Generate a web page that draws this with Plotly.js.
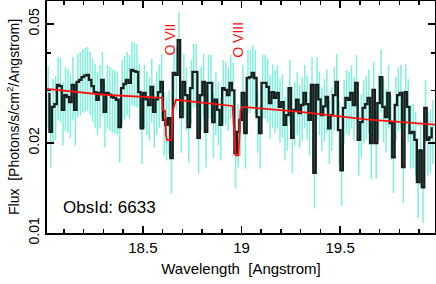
<!DOCTYPE html>
<html><head><meta charset="utf-8">
<script src="https://cdn.plot.ly/plotly-3.0.1.min.js"></script>
<style>html,body{margin:0;padding:0;background:#fff}#c{width:436px;height:284px}</style>
</head><body><div id="c"></div>
<script>
// binned spectrum (black histogram), flux in Photons/s/cm^2/Angstrom
const binStart = 18.02025; // centre of first bin, Angstrom
const binWidth = 0.0125;   // Angstrom
const flux = [
 0.0292,0.0218,0.0264,0.0270,0.0313,0.0310,0.0258,0.0289,0.0285,0.0274,
 0.0313,0.0258,0.0320,0.0325,0.0332,0.0336,0.0338,0.0325,0.0310,0.0296,
 0.0279,0.0294,0.0325,0.0254,0.0294,0.0290,0.0285,0.0283,0.0279,0.0226,
 0.0305,0.0315,0.0325,0.0318,0.0351,0.0348,0.0346,0.0296,0.0224,0.0294,
 0.0280,0.0268,0.0308,0.0254,0.0280,0.0296,0.0320,0.0239,0.0230,0.0242,
 0.0178,0.0343,0.0338,0.0442,0.0244,0.0320,0.0289,0.0226,0.0305,0.0346,
 0.0346,0.0208,0.0289,0.0320,0.0218,0.0318,0.0318,0.0235,0.0279,0.0258,
 0.0230,0.0305,0.0301,0.0289,0.0318,0.0300,0.0185,0.0218,0.0239,0.0294,
 0.0216,0.0330,0.0332,0.0343,0.0330,0.0244,0.0216,0.0318,0.0318,0.0308,
 0.0272,0.0296,0.0283,0.0294,0.0264,0.0274,0.0230,0.0248,0.0305,0.0208,
 0.0258,0.0279,0.0252,0.0268,0.0294,0.0270,0.0239,0.0313,0.0159,0.0313,
 0.0280,0.0248,0.0265,0.0285,0.0224,0.0248,0.0289,0.0320,0.0221,0.0162,
 0.0262,0.0283,0.0279,0.0294,0.0268,0.0318,0.0205,0.0235,0.0262,0.0270,
 0.0283,0.0200,0.0301,0.0200,0.0272,0.0332,0.0264,0.0244,0.0294,0.0233,
 0.0179,0.0268,0.0289,0.0294,0.0166,0.0296,0.0264,0.0216,0.0218,0.0205,
 0.0148,0.0189,0.0142,0.0262,0.0205,0.0209,0.0224
];
const fluxErrPercent = 24;

// absorption model (red)
const modelWave = [18.000,18.300,18.598,18.601,18.613,18.617,18.622,18.645,18.650,18.655,18.668,
                   18.955,18.962,18.967,18.970,18.985,18.990,18.995,19.005,19.300,19.630,19.990];
const modelFlux = [0.0304,0.0290,0.0283,0.0258,0.0256,0.0213,0.0205,0.0205,0.0240,0.0262,0.0279,
                   0.0266,0.0224,0.0189,0.0182,0.0182,0.0209,0.0258,0.0264,0.0254,0.0240,0.0230];

// line labels
const lineNames = ['O VII','O VIII'];
const lineWaves = [18.637,18.978];
const obsLabel = 'ObsId: 6633';

const xTicks = [18.5,19,19.5];
const xTickText = ['18.5','19','19.5'];
const yTicks = [0.01,0.02,0.05];
const yTickText = ['0.01','0.02','0.05'];

const F = 'Liberation Sans, Arial, sans-serif';

const traces = [
 {type:'scatter', mode:'lines', x0:binStart, dx:binWidth, y:flux, line:{shape:'hvh', color:'#7ff0dc', width:1},
  error_y:{type:'percent', value:fluxErrPercent, color:'#7ff0dc', thickness:1.5, width:0}, hoverinfo:'skip'},
 {type:'scatter', mode:'lines', x0:binStart, dx:binWidth, y:flux, line:{shape:'hvh', color:'#18201f', width:2.3}},
 {type:'scatter', mode:'lines', x:modelWave, y:modelFlux, line:{color:'#ff1010', width:1.8}}
];

const ann = lineNames.map((t,i)=>({text:t, x:lineWaves[i], xref:'x', y:0.834, yref:'paper', showarrow:false,
  xanchor:'center', yanchor:'middle', textangle:-90, font:{family:F, size:14, color:'#ff1010'}}));
ann.push({text:obsLabel, x:0.16, xref:'paper', y:0.112, yref:'paper', showarrow:false,
  xanchor:'center', yanchor:'middle', font:{family:F, size:17, color:'#000'}});

const layout = {
 width:436, height:284, margin:{l:47, r:1, t:1, b:51},
 paper_bgcolor:'#fff', plot_bgcolor:'#fff', showlegend:false,
 font:{family:F, size:14, color:'#000'},
 xaxis:{range:[18.014,19.981], tickmode:'array', tickvals:xTicks, ticktext:xTickText,
   ticks:'inside', ticklen:7, tickwidth:1.5, tickcolor:'#000', showline:true, linewidth:2, linecolor:'#000',
   mirror:'allticks', showgrid:false, zeroline:false,
   minor:{dtick:0.1, tick0:18, ticks:'inside', ticklen:4, tickwidth:1.5, tickcolor:'#000', showgrid:false},
   tickfont:{family:F, size:15},
   title:{text:'Wavelength\u00a0\u00a0[Angstrom]', font:{family:F, size:15}, standoff:8}},
 yaxis:{type:'log', range:[-2, Math.log10(0.0597)], tickmode:'array', tickvals:yTicks, ticktext:yTickText,
   tickangle:-90, ticks:'inside', ticklen:7, tickwidth:1.5, tickcolor:'#000', showline:true, linewidth:2, linecolor:'#000',
   mirror:'allticks', showgrid:false, zeroline:false,
   minor:{tickmode:'array', tickvals:[0.03,0.04,0.06], ticks:'inside', ticklen:4, tickwidth:1.5, tickcolor:'#000', showgrid:false},
   tickfont:{family:F, size:14},
   title:{text:'Flux\u00a0\u00a0[Photons/s/cm<sup>2</sup>/Angstrom]', font:{family:F, size:14}, standoff:4}},
 annotations:ann
};
Plotly.newPlot('c', traces, layout, {staticPlot:true, displayModeBar:false});
</script></body></html>
